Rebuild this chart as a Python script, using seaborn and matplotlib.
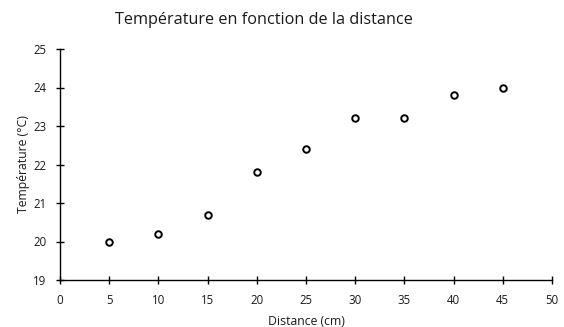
import matplotlib
matplotlib.use("Agg")
import matplotlib.pyplot as plt
import seaborn as sns
import pandas as pd

distance = [5, 10, 15, 20, 25, 30, 35, 40, 45]
temperature = [20.0, 20.2, 20.7, 21.8, 22.4, 23.2, 23.2, 23.8, 24.0]
x_ticks = [0, 5, 10, 15, 20, 25, 30, 35, 40, 45, 50]
y_ticks = [19, 20, 21, 22, 23, 24, 25]

sns.set_theme(style="ticks")
plt.rcParams['font.family'] = ['Open Sans', 'DejaVu Sans']

df = pd.DataFrame({"Distance (cm)": distance, "Température (°C)": temperature})

fig = plt.figure(figsize=(5.64, 3.27), dpi=100)
ax = fig.add_axes([60/564, 1-280/327, (552-60)/564, (280-49)/327])
sns.scatterplot(data=df, x="Distance (cm)", y="Température (°C)", ax=ax,
                marker="o", s=22, facecolor="white", edgecolor="black", linewidth=1.4)
ax.set_xlim(0, 50)
ax.set_ylim(19, 25)
ax.set_xticks(x_ticks)
ax.set_yticks(y_ticks)
for s in ["top", "right"]:
    ax.spines[s].set_visible(False)
for s in ["left", "bottom"]:
    ax.spines[s].set_color("black")
    ax.spines[s].set_linewidth(1.0)
ax.tick_params(axis="both", direction="inout", length=6, width=1.0, color="black",
               labelsize=8.3, labelcolor="#1a1a1a")
ax.tick_params(axis="x", pad=7)
ax.tick_params(axis="y", pad=7)
ax.set_xlabel("Distance (cm)", fontsize=8.8, color="#1a1a1a", labelpad=6)
ax.set_ylabel("Température (°C)", fontsize=8.8, color="#1a1a1a", labelpad=2)
fig.text(263.5/564, 1-20/327, "Température en fonction de la distance", ha="center", va="center",
         fontsize=11.7, color="#1a1a1a")
fig.savefig("out.png", dpi=100)
